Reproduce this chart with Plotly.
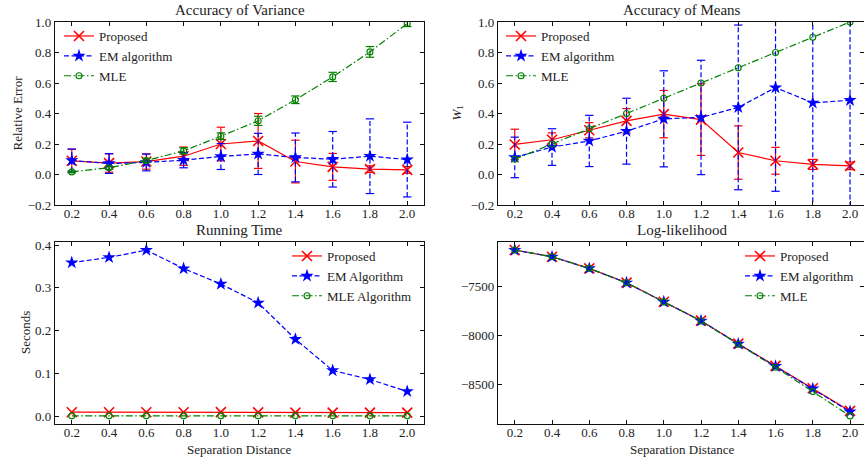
import plotly.graph_objects as go

W, H = 864, 459
FONT = "Liberation Serif"
TXT = "#222222"
RED, BLUE, GREEN = "#ff0000", "#0000ff", "#008000"

# ---------------- data ----------------
sep = [0.2, 0.4, 0.6, 0.8, 1.0, 1.2, 1.4, 1.6, 1.8, 2.0]

# Accuracy of Variance (relative error)
var_prop = [0.090, 0.075, 0.085, 0.120, 0.200, 0.220, 0.085, 0.050, 0.035, 0.030]
var_prop_err = [0.075, 0.060, 0.050, 0.060, 0.110, 0.180, 0.140, 0.088, 0.022, 0.022]
var_em = [0.092, 0.072, 0.079, 0.094, 0.118, 0.135, 0.112, 0.100, 0.120, 0.098]
var_em_err = [0.075, 0.065, 0.055, 0.050, 0.085, 0.135, 0.160, 0.182, 0.245, 0.245]
var_mle = [0.017, 0.044, 0.092, 0.155, 0.251, 0.352, 0.490, 0.640, 0.804, 0.990]
var_mle_err = [0.006, 0.010, 0.012, 0.020, 0.022, 0.030, 0.025, 0.030, 0.035, 0.020]

# Accuracy of Means (W1)
mean_prop = [0.197, 0.228, 0.290, 0.352, 0.396, 0.360, 0.144, 0.090, 0.066, 0.057]
mean_prop_err = [0.100, 0.045, 0.050, 0.080, 0.155, 0.235, 0.175, 0.088, 0.033, 0.025]
mean_em = [0.112, 0.180, 0.220, 0.284, 0.365, 0.374, 0.440, 0.570, 0.470, 0.487]
mean_em_err = [0.133, 0.120, 0.168, 0.216, 0.315, 0.375, 0.540, 0.680, 0.750, 0.750]
mean_mle = [0.100, 0.200, 0.300, 0.400, 0.500, 0.600, 0.700, 0.800, 0.900, 1.000]

# Running Time (seconds)
time_prop = [0.0095, 0.0095, 0.0095, 0.0095, 0.0098, 0.0093, 0.0085, 0.0085, 0.0085, 0.0085]
time_em = [0.359, 0.371, 0.388, 0.345, 0.309, 0.265, 0.180, 0.107, 0.086, 0.058]
time_mle = [0.0010, 0.0010, 0.0010, 0.0010, 0.0010, 0.0010, 0.0010, 0.0010, 0.0010, 0.0010]

# Log-likelihood
ll_prop = [-7124, -7193, -7312, -7459, -7654, -7848, -8084, -8312, -8541, -8773]
ll_em = [-7125, -7194, -7313, -7460, -7655, -7850, -8086, -8315, -8545, -8780]
ll_mle = [-7124, -7193, -7312, -7460, -7656, -7852, -8090, -8325, -8575, -8824]

titles = ["Accuracy of Variance", "Accuracy of Means", "Running Time", "Log-likelihood"]
ylabels = ["Relative Error", "<i>W</i><sub>1</sub>", "Seconds"]
xlabel = "Separation Distance"
legend_top = ["Proposed", "EM algorithm", "MLE"]
legend_time = ["Proposed", "EM Algorithm", "MLE Algorithm"]


def px(x):
    return x / W


def py(y):
    return 1 - y / H


fig = go.Figure()

styles = [
    dict(color=RED, dash="solid", symbol="x-thin-open", size=10, mlw=1.6),
    dict(color=BLUE, dash="5px,2.5px", symbol="star", size=10, mlw=0),
    dict(color=GREEN, dash="7px,2.5px,1.5px,2.5px", symbol="circle-open", size=6, mlw=1.1),
]


def add(ix, x, y, err, name, st, legend):
    axis_x = "x" if ix == 1 else f"x{ix}"
    axis_y = "y" if ix == 1 else f"y{ix}"
    if err is not None:
        # error bars drawn with the series' line style
        bx, by, cx, cy = [], [], [], []
        for xi, yi, ei in zip(x, y, err):
            bx += [xi, xi, None]
            by += [yi - ei, yi + ei, None]
            cx += [xi, xi]
            cy += [yi - ei, yi + ei]
        fig.add_trace(go.Scatter(
            x=bx, y=by, mode="lines", showlegend=False, hoverinfo="skip",
            line=dict(color=st["color"], width=1.2, dash=st["dash"]),
            xaxis=axis_x, yaxis=axis_y))
        fig.add_trace(go.Scatter(
            x=cx, y=cy, mode="markers", showlegend=False, hoverinfo="skip",
            marker=dict(symbol="line-ew-open", size=6, color=st["color"],
                        line=dict(color=st["color"], width=1.2)),
            xaxis=axis_x, yaxis=axis_y))
    marker = dict(symbol=st["symbol"], size=st["size"], color=st["color"],
                  line=dict(color=st["color"], width=st["mlw"]))
    fig.add_trace(go.Scatter(
        x=x, y=y, name=name, mode="lines+markers",
        line=dict(color=st["color"], width=1.2, dash=st["dash"]),
        marker=marker, xaxis=axis_x, yaxis=axis_y, legend=legend))


add(1, sep, var_prop, var_prop_err, legend_top[0], styles[0], "legend")
add(1, sep, var_em, var_em_err, legend_top[1], styles[1], "legend")
add(1, sep, var_mle, var_mle_err, legend_top[2], styles[2], "legend")

add(2, sep, mean_prop, mean_prop_err, legend_top[0], styles[0], "legend2")
add(2, sep, mean_em, mean_em_err, legend_top[1], styles[1], "legend2")
add(2, sep, mean_mle, None, legend_top[2], styles[2], "legend2")

add(3, sep, time_prop, None, legend_time[0], styles[0], "legend3")
add(3, sep, time_em, None, legend_time[1], styles[1], "legend3")
add(3, sep, time_mle, None, legend_time[2], styles[2], "legend3")

add(4, sep, ll_prop, None, legend_top[0], styles[0], "legend4")
add(4, sep, ll_em, None, legend_top[1], styles[1], "legend4")
add(4, sep, ll_mle, None, legend_top[2], styles[2], "legend4")

tickfont = dict(family=FONT, size=13, color=TXT)
common = dict(showline=True, linecolor="#111111", linewidth=1.2, mirror="ticks",
              ticks="inside", ticklen=4, tickwidth=1, tickcolor="#111111",
              showgrid=False, zeroline=False, tickfont=tickfont, automargin=False)

dx_left = [px(55), px(424)]
dx_right = [px(498), 1.0]
dy_top = [py(205), py(22)]
dy_bot = [py(424.3), py(241.7)]

xcommon = dict(tickvals=sep, tickformat=".1f", ticklabelstandoff=-4, **common)

fig.update_layout(
    width=W, height=H, margin=dict(l=0, r=0, t=0, b=0, autoexpand=False),
    paper_bgcolor="white", plot_bgcolor="white",
    font=dict(family=FONT, color=TXT, size=13),
    xaxis=dict(domain=dx_left, range=[0.11, 2.09], anchor="y", **xcommon),
    yaxis=dict(domain=dy_top, range=[-0.2, 1.0], dtick=0.2, tickformat=".1f", anchor="x", **common),
    xaxis2=dict(domain=dx_right, range=[0.11, 2.075], anchor="y2", **xcommon),
    yaxis2=dict(domain=dy_top, range=[-0.2, 1.0], dtick=0.2, tickformat=".1f", anchor="x2", **common),
    xaxis3=dict(domain=dx_left, range=[0.11, 2.09], anchor="y3", **xcommon),
    yaxis3=dict(domain=dy_bot, range=[-0.0187, 0.4077], dtick=0.1, tickformat=".1f", anchor="x3", **common),
    xaxis4=dict(domain=dx_right, range=[0.11, 2.075], anchor="y4", **xcommon),
    yaxis4=dict(domain=dy_bot, range=[-8910, -7039], dtick=500, tickformat="d", anchor="x4", **common),
)

legfont = dict(family=FONT, size=13, color=TXT)
legcommon = dict(xanchor="left", yanchor="top", bgcolor="rgba(0,0,0,0)",
                 borderwidth=0, font=legfont, tracegroupgap=0, itemwidth=30)
fig.update_layout(
    legend=dict(x=px(59), y=py(21), **legcommon),
    legend2=dict(x=px(501), y=py(21), **legcommon),
    legend3=dict(x=px(287), y=py(241), **legcommon),
    legend4=dict(x=px(740), y=py(241), **legcommon),
)

ann = []
tfont = dict(family=FONT, size=15, color=TXT)
lfont = dict(family=FONT, size=13, color=TXT)
for t, (cx, cy) in zip(titles, [(239.5, 10), (682, 10), (239.5, 230), (682, 230)]):
    ann.append(dict(text=t, x=px(cx), y=py(cy), xref="paper", yref="paper",
                    showarrow=False, xanchor="center", yanchor="middle", font=tfont))
for t, (cx, cy) in zip(ylabels, [(17, 113.5), (457, 113.5), (25, 333)]):
    ann.append(dict(text=t, x=px(cx), y=py(cy), xref="paper", yref="paper",
                    showarrow=False, xanchor="center", yanchor="middle",
                    textangle=-90, font=lfont))
for cx in [239.5, 682]:
    ann.append(dict(text=xlabel, x=px(cx), y=py(449), xref="paper", yref="paper",
                    showarrow=False, xanchor="center", yanchor="middle", font=lfont))
fig.update_layout(annotations=ann)

fig.write_html(
    "out.html",
    config={"displayModeBar": False},
    post_script="document.body.style.margin='0';document.body.style.overflow='hidden';",
)
